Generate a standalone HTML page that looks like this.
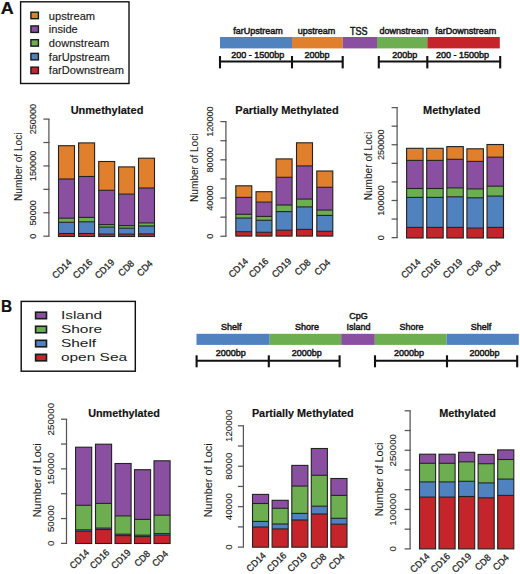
<!DOCTYPE html>
<html><head><meta charset="utf-8"><style>
html,body{margin:0;padding:0;background:#fff;overflow:hidden;}
svg{display:block;font-family:"Liberation Sans", sans-serif;}
</style></head><body>
<svg width="520" height="574" viewBox="0 0 520 574">
<rect x="0" y="0" width="520" height="574" fill="#fff"/>
<line x1="48.90" y1="119.10" x2="48.90" y2="236.20" stroke="#555555" stroke-width="1.25"/>
<line x1="43.40" y1="236.20" x2="49.50" y2="236.20" stroke="#555555" stroke-width="1.25"/>
<line x1="43.40" y1="212.78" x2="49.50" y2="212.78" stroke="#555555" stroke-width="1.25"/>
<line x1="43.40" y1="189.36" x2="49.50" y2="189.36" stroke="#555555" stroke-width="1.25"/>
<line x1="43.40" y1="165.94" x2="49.50" y2="165.94" stroke="#555555" stroke-width="1.25"/>
<line x1="43.40" y1="142.52" x2="49.50" y2="142.52" stroke="#555555" stroke-width="1.25"/>
<line x1="43.40" y1="119.10" x2="49.50" y2="119.10" stroke="#555555" stroke-width="1.25"/>
<text transform="translate(36.40,236.20) rotate(-90) scale(0.9215,1)" font-size="9.95" text-anchor="middle" font-weight="normal" fill="#1a1a1a"  stroke="#1a1a1a" stroke-width="0.1">0</text>
<text transform="translate(36.40,212.78) rotate(-90) scale(0.9215,1)" font-size="9.95" text-anchor="middle" font-weight="normal" fill="#1a1a1a"  stroke="#1a1a1a" stroke-width="0.1">50000</text>
<text transform="translate(36.40,165.94) rotate(-90) scale(0.9215,1)" font-size="9.95" text-anchor="middle" font-weight="normal" fill="#1a1a1a"  stroke="#1a1a1a" stroke-width="0.1">150000</text>
<text transform="translate(36.40,119.10) rotate(-90) scale(0.9215,1)" font-size="9.95" text-anchor="middle" font-weight="normal" fill="#1a1a1a"  stroke="#1a1a1a" stroke-width="0.1">250000</text>
<text transform="translate(22.10,166.80) rotate(-90) scale(1.0,1)" font-size="10.1" text-anchor="middle" font-weight="normal" fill="#1a1a1a"  stroke="#1a1a1a" stroke-width="0.05">Number of Loci</text>
<text transform="translate(107.00,113.50)" font-size="11" text-anchor="middle" font-weight="bold" fill="#111"  stroke="#111" stroke-width="0.15">Unmethylated</text>
<rect x="58.50" y="145.70" width="16.00" height="33.30" fill="#E07F2C"/>
<rect x="58.50" y="179.00" width="16.00" height="39.20" fill="#8A4FA0"/>
<rect x="58.50" y="218.20" width="16.00" height="4.10" fill="#6DAE50"/>
<rect x="58.50" y="222.30" width="16.00" height="11.20" fill="#4F82BF"/>
<rect x="58.50" y="233.50" width="16.00" height="3.00" fill="#C5242A"/>
<line x1="58.50" y1="179.00" x2="74.50" y2="179.00" stroke="#222222" stroke-width="1.1"/>
<line x1="58.50" y1="218.20" x2="74.50" y2="218.20" stroke="#222222" stroke-width="1.1"/>
<line x1="58.50" y1="222.30" x2="74.50" y2="222.30" stroke="#222222" stroke-width="1.1"/>
<line x1="58.50" y1="233.50" x2="74.50" y2="233.50" stroke="#222222" stroke-width="1.1"/>
<rect x="58.50" y="145.70" width="16.00" height="90.80" fill="none" stroke="#222222" stroke-width="1.1"/>
<rect x="78.60" y="142.90" width="16.00" height="33.60" fill="#E07F2C"/>
<rect x="78.60" y="176.50" width="16.00" height="40.90" fill="#8A4FA0"/>
<rect x="78.60" y="217.40" width="16.00" height="4.40" fill="#6DAE50"/>
<rect x="78.60" y="221.80" width="16.00" height="11.70" fill="#4F82BF"/>
<rect x="78.60" y="233.50" width="16.00" height="3.00" fill="#C5242A"/>
<line x1="78.60" y1="176.50" x2="94.60" y2="176.50" stroke="#222222" stroke-width="1.1"/>
<line x1="78.60" y1="217.40" x2="94.60" y2="217.40" stroke="#222222" stroke-width="1.1"/>
<line x1="78.60" y1="221.80" x2="94.60" y2="221.80" stroke="#222222" stroke-width="1.1"/>
<line x1="78.60" y1="233.50" x2="94.60" y2="233.50" stroke="#222222" stroke-width="1.1"/>
<rect x="78.60" y="142.90" width="16.00" height="93.60" fill="none" stroke="#222222" stroke-width="1.1"/>
<rect x="98.70" y="161.50" width="16.00" height="28.80" fill="#E07F2C"/>
<rect x="98.70" y="190.30" width="16.00" height="34.30" fill="#8A4FA0"/>
<rect x="98.70" y="224.60" width="16.00" height="2.50" fill="#6DAE50"/>
<rect x="98.70" y="227.10" width="16.00" height="7.00" fill="#4F82BF"/>
<rect x="98.70" y="234.10" width="16.00" height="2.40" fill="#C5242A"/>
<line x1="98.70" y1="190.30" x2="114.70" y2="190.30" stroke="#222222" stroke-width="1.1"/>
<line x1="98.70" y1="224.60" x2="114.70" y2="224.60" stroke="#222222" stroke-width="1.1"/>
<line x1="98.70" y1="227.10" x2="114.70" y2="227.10" stroke="#222222" stroke-width="1.1"/>
<line x1="98.70" y1="234.10" x2="114.70" y2="234.10" stroke="#222222" stroke-width="1.1"/>
<rect x="98.70" y="161.50" width="16.00" height="75.00" fill="none" stroke="#222222" stroke-width="1.1"/>
<rect x="118.60" y="166.90" width="16.00" height="27.20" fill="#E07F2C"/>
<rect x="118.60" y="194.10" width="16.00" height="31.50" fill="#8A4FA0"/>
<rect x="118.60" y="225.60" width="16.00" height="2.60" fill="#6DAE50"/>
<rect x="118.60" y="228.20" width="16.00" height="5.90" fill="#4F82BF"/>
<rect x="118.60" y="234.10" width="16.00" height="2.40" fill="#C5242A"/>
<line x1="118.60" y1="194.10" x2="134.60" y2="194.10" stroke="#222222" stroke-width="1.1"/>
<line x1="118.60" y1="225.60" x2="134.60" y2="225.60" stroke="#222222" stroke-width="1.1"/>
<line x1="118.60" y1="228.20" x2="134.60" y2="228.20" stroke="#222222" stroke-width="1.1"/>
<line x1="118.60" y1="234.10" x2="134.60" y2="234.10" stroke="#222222" stroke-width="1.1"/>
<rect x="118.60" y="166.90" width="16.00" height="69.60" fill="none" stroke="#222222" stroke-width="1.1"/>
<rect x="138.50" y="158.20" width="16.00" height="29.80" fill="#E07F2C"/>
<rect x="138.50" y="188.00" width="16.00" height="34.90" fill="#8A4FA0"/>
<rect x="138.50" y="222.90" width="16.00" height="3.10" fill="#6DAE50"/>
<rect x="138.50" y="226.00" width="16.00" height="7.90" fill="#4F82BF"/>
<rect x="138.50" y="233.90" width="16.00" height="2.60" fill="#C5242A"/>
<line x1="138.50" y1="188.00" x2="154.50" y2="188.00" stroke="#222222" stroke-width="1.1"/>
<line x1="138.50" y1="222.90" x2="154.50" y2="222.90" stroke="#222222" stroke-width="1.1"/>
<line x1="138.50" y1="226.00" x2="154.50" y2="226.00" stroke="#222222" stroke-width="1.1"/>
<line x1="138.50" y1="233.90" x2="154.50" y2="233.90" stroke="#222222" stroke-width="1.1"/>
<rect x="138.50" y="158.20" width="16.00" height="78.30" fill="none" stroke="#222222" stroke-width="1.1"/>
<text transform="translate(72.40,263.07) rotate(-45) scale(0.95,1)" font-size="9.5" text-anchor="end" font-weight="normal" fill="#1a1a1a"  stroke="#1a1a1a" stroke-width="0.25">CD14</text>
<text transform="translate(93.15,263.07) rotate(-45) scale(0.95,1)" font-size="9.5" text-anchor="end" font-weight="normal" fill="#1a1a1a"  stroke="#1a1a1a" stroke-width="0.25">CD16</text>
<text transform="translate(114.95,263.07) rotate(-45) scale(0.95,1)" font-size="9.5" text-anchor="end" font-weight="normal" fill="#1a1a1a"  stroke="#1a1a1a" stroke-width="0.25">CD19</text>
<text transform="translate(134.85,264.13) rotate(-45) scale(0.95,1)" font-size="9.5" text-anchor="end" font-weight="normal" fill="#1a1a1a"  stroke="#1a1a1a" stroke-width="0.25">CD8</text>
<text transform="translate(153.40,264.13) rotate(-45) scale(0.95,1)" font-size="9.5" text-anchor="end" font-weight="normal" fill="#1a1a1a"  stroke="#1a1a1a" stroke-width="0.25">CD4</text>
<line x1="225.90" y1="121.60" x2="225.90" y2="236.25" stroke="#555555" stroke-width="1.25"/>
<line x1="220.40" y1="236.25" x2="226.50" y2="236.25" stroke="#555555" stroke-width="1.25"/>
<line x1="220.40" y1="217.14" x2="226.50" y2="217.14" stroke="#555555" stroke-width="1.25"/>
<line x1="220.40" y1="198.03" x2="226.50" y2="198.03" stroke="#555555" stroke-width="1.25"/>
<line x1="220.40" y1="178.93" x2="226.50" y2="178.93" stroke="#555555" stroke-width="1.25"/>
<line x1="220.40" y1="159.82" x2="226.50" y2="159.82" stroke="#555555" stroke-width="1.25"/>
<line x1="220.40" y1="140.71" x2="226.50" y2="140.71" stroke="#555555" stroke-width="1.25"/>
<line x1="220.40" y1="121.60" x2="226.50" y2="121.60" stroke="#555555" stroke-width="1.25"/>
<text transform="translate(213.20,236.25) rotate(-90) scale(0.9215,1)" font-size="9.95" text-anchor="middle" font-weight="normal" fill="#1a1a1a"  stroke="#1a1a1a" stroke-width="0.1">0</text>
<text transform="translate(213.20,198.03) rotate(-90) scale(0.9215,1)" font-size="9.95" text-anchor="middle" font-weight="normal" fill="#1a1a1a"  stroke="#1a1a1a" stroke-width="0.1">40000</text>
<text transform="translate(213.20,159.82) rotate(-90) scale(0.9215,1)" font-size="9.95" text-anchor="middle" font-weight="normal" fill="#1a1a1a"  stroke="#1a1a1a" stroke-width="0.1">80000</text>
<text transform="translate(213.20,121.60) rotate(-90) scale(0.9215,1)" font-size="9.95" text-anchor="middle" font-weight="normal" fill="#1a1a1a"  stroke="#1a1a1a" stroke-width="0.1">120000</text>
<text transform="translate(197.50,167.70) rotate(-90) scale(1.0,1)" font-size="10.1" text-anchor="middle" font-weight="normal" fill="#1a1a1a"  stroke="#1a1a1a" stroke-width="0.05">Number of Loci</text>
<text transform="translate(287.00,113.90)" font-size="11" text-anchor="middle" font-weight="bold" fill="#111"  stroke="#111" stroke-width="0.15">Partially Methylated</text>
<rect x="235.80" y="185.80" width="16.00" height="11.60" fill="#E07F2C"/>
<rect x="235.80" y="197.40" width="16.00" height="16.90" fill="#8A4FA0"/>
<rect x="235.80" y="214.30" width="16.00" height="3.80" fill="#6DAE50"/>
<rect x="235.80" y="218.10" width="16.00" height="13.60" fill="#4F82BF"/>
<rect x="235.80" y="231.70" width="16.00" height="4.40" fill="#C5242A"/>
<line x1="235.80" y1="197.40" x2="251.80" y2="197.40" stroke="#222222" stroke-width="1.1"/>
<line x1="235.80" y1="214.30" x2="251.80" y2="214.30" stroke="#222222" stroke-width="1.1"/>
<line x1="235.80" y1="218.10" x2="251.80" y2="218.10" stroke="#222222" stroke-width="1.1"/>
<line x1="235.80" y1="231.70" x2="251.80" y2="231.70" stroke="#222222" stroke-width="1.1"/>
<rect x="235.80" y="185.80" width="16.00" height="50.30" fill="none" stroke="#222222" stroke-width="1.1"/>
<rect x="256.00" y="191.70" width="16.00" height="10.40" fill="#E07F2C"/>
<rect x="256.00" y="202.10" width="16.00" height="14.30" fill="#8A4FA0"/>
<rect x="256.00" y="216.40" width="16.00" height="3.90" fill="#6DAE50"/>
<rect x="256.00" y="220.30" width="16.00" height="12.00" fill="#4F82BF"/>
<rect x="256.00" y="232.30" width="16.00" height="3.80" fill="#C5242A"/>
<line x1="256.00" y1="202.10" x2="272.00" y2="202.10" stroke="#222222" stroke-width="1.1"/>
<line x1="256.00" y1="216.40" x2="272.00" y2="216.40" stroke="#222222" stroke-width="1.1"/>
<line x1="256.00" y1="220.30" x2="272.00" y2="220.30" stroke="#222222" stroke-width="1.1"/>
<line x1="256.00" y1="232.30" x2="272.00" y2="232.30" stroke="#222222" stroke-width="1.1"/>
<rect x="256.00" y="191.70" width="16.00" height="44.40" fill="none" stroke="#222222" stroke-width="1.1"/>
<rect x="276.10" y="158.90" width="16.00" height="18.40" fill="#E07F2C"/>
<rect x="276.10" y="177.30" width="16.00" height="27.70" fill="#8A4FA0"/>
<rect x="276.10" y="205.00" width="16.00" height="6.60" fill="#6DAE50"/>
<rect x="276.10" y="211.60" width="16.00" height="18.60" fill="#4F82BF"/>
<rect x="276.10" y="230.20" width="16.00" height="5.90" fill="#C5242A"/>
<line x1="276.10" y1="177.30" x2="292.10" y2="177.30" stroke="#222222" stroke-width="1.1"/>
<line x1="276.10" y1="205.00" x2="292.10" y2="205.00" stroke="#222222" stroke-width="1.1"/>
<line x1="276.10" y1="211.60" x2="292.10" y2="211.60" stroke="#222222" stroke-width="1.1"/>
<line x1="276.10" y1="230.20" x2="292.10" y2="230.20" stroke="#222222" stroke-width="1.1"/>
<rect x="276.10" y="158.90" width="16.00" height="77.20" fill="none" stroke="#222222" stroke-width="1.1"/>
<rect x="296.50" y="142.80" width="16.00" height="23.10" fill="#E07F2C"/>
<rect x="296.50" y="165.90" width="16.00" height="33.20" fill="#8A4FA0"/>
<rect x="296.50" y="199.10" width="16.00" height="7.80" fill="#6DAE50"/>
<rect x="296.50" y="206.90" width="16.00" height="22.50" fill="#4F82BF"/>
<rect x="296.50" y="229.40" width="16.00" height="6.70" fill="#C5242A"/>
<line x1="296.50" y1="165.90" x2="312.50" y2="165.90" stroke="#222222" stroke-width="1.1"/>
<line x1="296.50" y1="199.10" x2="312.50" y2="199.10" stroke="#222222" stroke-width="1.1"/>
<line x1="296.50" y1="206.90" x2="312.50" y2="206.90" stroke="#222222" stroke-width="1.1"/>
<line x1="296.50" y1="229.40" x2="312.50" y2="229.40" stroke="#222222" stroke-width="1.1"/>
<rect x="296.50" y="142.80" width="16.00" height="93.30" fill="none" stroke="#222222" stroke-width="1.1"/>
<rect x="316.80" y="171.00" width="16.00" height="16.30" fill="#E07F2C"/>
<rect x="316.80" y="187.30" width="16.00" height="22.80" fill="#8A4FA0"/>
<rect x="316.80" y="210.10" width="16.00" height="5.30" fill="#6DAE50"/>
<rect x="316.80" y="215.40" width="16.00" height="15.90" fill="#4F82BF"/>
<rect x="316.80" y="231.30" width="16.00" height="4.80" fill="#C5242A"/>
<line x1="316.80" y1="187.30" x2="332.80" y2="187.30" stroke="#222222" stroke-width="1.1"/>
<line x1="316.80" y1="210.10" x2="332.80" y2="210.10" stroke="#222222" stroke-width="1.1"/>
<line x1="316.80" y1="215.40" x2="332.80" y2="215.40" stroke="#222222" stroke-width="1.1"/>
<line x1="316.80" y1="231.30" x2="332.80" y2="231.30" stroke="#222222" stroke-width="1.1"/>
<rect x="316.80" y="171.00" width="16.00" height="65.10" fill="none" stroke="#222222" stroke-width="1.1"/>
<text transform="translate(248.75,261.98) rotate(-45) scale(0.95,1)" font-size="9.5" text-anchor="end" font-weight="normal" fill="#1a1a1a"  stroke="#1a1a1a" stroke-width="0.25">CD14</text>
<text transform="translate(269.05,261.98) rotate(-45) scale(0.95,1)" font-size="9.5" text-anchor="end" font-weight="normal" fill="#1a1a1a"  stroke="#1a1a1a" stroke-width="0.25">CD16</text>
<text transform="translate(291.95,261.98) rotate(-45) scale(0.95,1)" font-size="9.5" text-anchor="end" font-weight="normal" fill="#1a1a1a"  stroke="#1a1a1a" stroke-width="0.25">CD19</text>
<text transform="translate(311.35,263.13) rotate(-45) scale(0.95,1)" font-size="9.5" text-anchor="end" font-weight="normal" fill="#1a1a1a"  stroke="#1a1a1a" stroke-width="0.25">CD8</text>
<text transform="translate(331.05,263.13) rotate(-45) scale(0.95,1)" font-size="9.5" text-anchor="end" font-weight="normal" fill="#1a1a1a"  stroke="#1a1a1a" stroke-width="0.25">CD4</text>
<line x1="397.10" y1="107.60" x2="397.10" y2="237.65" stroke="#555555" stroke-width="1.25"/>
<line x1="391.60" y1="237.65" x2="397.70" y2="237.65" stroke="#555555" stroke-width="1.25"/>
<line x1="391.60" y1="219.07" x2="397.70" y2="219.07" stroke="#555555" stroke-width="1.25"/>
<line x1="391.60" y1="200.49" x2="397.70" y2="200.49" stroke="#555555" stroke-width="1.25"/>
<line x1="391.60" y1="181.91" x2="397.70" y2="181.91" stroke="#555555" stroke-width="1.25"/>
<line x1="391.60" y1="163.34" x2="397.70" y2="163.34" stroke="#555555" stroke-width="1.25"/>
<line x1="391.60" y1="144.76" x2="397.70" y2="144.76" stroke="#555555" stroke-width="1.25"/>
<line x1="391.60" y1="126.18" x2="397.70" y2="126.18" stroke="#555555" stroke-width="1.25"/>
<line x1="391.60" y1="107.60" x2="397.70" y2="107.60" stroke="#555555" stroke-width="1.25"/>
<text transform="translate(384.10,237.65) rotate(-90) scale(0.9215,1)" font-size="9.95" text-anchor="middle" font-weight="normal" fill="#1a1a1a"  stroke="#1a1a1a" stroke-width="0.1">0</text>
<text transform="translate(384.10,200.49) rotate(-90) scale(0.9215,1)" font-size="9.95" text-anchor="middle" font-weight="normal" fill="#1a1a1a"  stroke="#1a1a1a" stroke-width="0.1">100000</text>
<text transform="translate(384.10,144.76) rotate(-90) scale(0.9215,1)" font-size="9.95" text-anchor="middle" font-weight="normal" fill="#1a1a1a"  stroke="#1a1a1a" stroke-width="0.1">250000</text>
<text transform="translate(371.80,166.10) rotate(-90) scale(1.0,1)" font-size="10.1" text-anchor="middle" font-weight="normal" fill="#1a1a1a"  stroke="#1a1a1a" stroke-width="0.05">Number of Loci</text>
<text transform="translate(451.70,113.50)" font-size="11" text-anchor="middle" font-weight="bold" fill="#111"  stroke="#111" stroke-width="0.15">Methylated</text>
<rect x="406.60" y="148.30" width="16.50" height="12.10" fill="#E07F2C"/>
<rect x="406.60" y="160.40" width="16.50" height="28.10" fill="#8A4FA0"/>
<rect x="406.60" y="188.50" width="16.50" height="8.90" fill="#6DAE50"/>
<rect x="406.60" y="197.40" width="16.50" height="30.00" fill="#4F82BF"/>
<rect x="406.60" y="227.40" width="16.50" height="10.60" fill="#C5242A"/>
<line x1="406.60" y1="160.40" x2="423.10" y2="160.40" stroke="#222222" stroke-width="1.1"/>
<line x1="406.60" y1="188.50" x2="423.10" y2="188.50" stroke="#222222" stroke-width="1.1"/>
<line x1="406.60" y1="197.40" x2="423.10" y2="197.40" stroke="#222222" stroke-width="1.1"/>
<line x1="406.60" y1="227.40" x2="423.10" y2="227.40" stroke="#222222" stroke-width="1.1"/>
<rect x="406.60" y="148.30" width="16.50" height="89.70" fill="none" stroke="#222222" stroke-width="1.1"/>
<rect x="426.70" y="148.30" width="16.50" height="12.10" fill="#E07F2C"/>
<rect x="426.70" y="160.40" width="16.50" height="28.10" fill="#8A4FA0"/>
<rect x="426.70" y="188.50" width="16.50" height="8.90" fill="#6DAE50"/>
<rect x="426.70" y="197.40" width="16.50" height="30.00" fill="#4F82BF"/>
<rect x="426.70" y="227.40" width="16.50" height="10.60" fill="#C5242A"/>
<line x1="426.70" y1="160.40" x2="443.20" y2="160.40" stroke="#222222" stroke-width="1.1"/>
<line x1="426.70" y1="188.50" x2="443.20" y2="188.50" stroke="#222222" stroke-width="1.1"/>
<line x1="426.70" y1="197.40" x2="443.20" y2="197.40" stroke="#222222" stroke-width="1.1"/>
<line x1="426.70" y1="227.40" x2="443.20" y2="227.40" stroke="#222222" stroke-width="1.1"/>
<rect x="426.70" y="148.30" width="16.50" height="89.70" fill="none" stroke="#222222" stroke-width="1.1"/>
<rect x="446.80" y="146.60" width="16.50" height="12.70" fill="#E07F2C"/>
<rect x="446.80" y="159.30" width="16.50" height="28.60" fill="#8A4FA0"/>
<rect x="446.80" y="187.90" width="16.50" height="8.90" fill="#6DAE50"/>
<rect x="446.80" y="196.80" width="16.50" height="30.60" fill="#4F82BF"/>
<rect x="446.80" y="227.40" width="16.50" height="10.60" fill="#C5242A"/>
<line x1="446.80" y1="159.30" x2="463.30" y2="159.30" stroke="#222222" stroke-width="1.1"/>
<line x1="446.80" y1="187.90" x2="463.30" y2="187.90" stroke="#222222" stroke-width="1.1"/>
<line x1="446.80" y1="196.80" x2="463.30" y2="196.80" stroke="#222222" stroke-width="1.1"/>
<line x1="446.80" y1="227.40" x2="463.30" y2="227.40" stroke="#222222" stroke-width="1.1"/>
<rect x="446.80" y="146.60" width="16.50" height="91.40" fill="none" stroke="#222222" stroke-width="1.1"/>
<rect x="466.90" y="148.80" width="16.50" height="12.60" fill="#E07F2C"/>
<rect x="466.90" y="161.40" width="16.50" height="27.50" fill="#8A4FA0"/>
<rect x="466.90" y="188.90" width="16.50" height="8.90" fill="#6DAE50"/>
<rect x="466.90" y="197.80" width="16.50" height="30.30" fill="#4F82BF"/>
<rect x="466.90" y="228.10" width="16.50" height="9.90" fill="#C5242A"/>
<line x1="466.90" y1="161.40" x2="483.40" y2="161.40" stroke="#222222" stroke-width="1.1"/>
<line x1="466.90" y1="188.90" x2="483.40" y2="188.90" stroke="#222222" stroke-width="1.1"/>
<line x1="466.90" y1="197.80" x2="483.40" y2="197.80" stroke="#222222" stroke-width="1.1"/>
<line x1="466.90" y1="228.10" x2="483.40" y2="228.10" stroke="#222222" stroke-width="1.1"/>
<rect x="466.90" y="148.80" width="16.50" height="89.20" fill="none" stroke="#222222" stroke-width="1.1"/>
<rect x="487.00" y="144.50" width="16.50" height="12.70" fill="#E07F2C"/>
<rect x="487.00" y="157.20" width="16.50" height="29.00" fill="#8A4FA0"/>
<rect x="487.00" y="186.20" width="16.50" height="9.90" fill="#6DAE50"/>
<rect x="487.00" y="196.10" width="16.50" height="31.30" fill="#4F82BF"/>
<rect x="487.00" y="227.40" width="16.50" height="10.60" fill="#C5242A"/>
<line x1="487.00" y1="157.20" x2="503.50" y2="157.20" stroke="#222222" stroke-width="1.1"/>
<line x1="487.00" y1="186.20" x2="503.50" y2="186.20" stroke="#222222" stroke-width="1.1"/>
<line x1="487.00" y1="196.10" x2="503.50" y2="196.10" stroke="#222222" stroke-width="1.1"/>
<line x1="487.00" y1="227.40" x2="503.50" y2="227.40" stroke="#222222" stroke-width="1.1"/>
<rect x="487.00" y="144.50" width="16.50" height="93.50" fill="none" stroke="#222222" stroke-width="1.1"/>
<text transform="translate(421.20,262.63) rotate(-45) scale(0.95,1)" font-size="9.5" text-anchor="end" font-weight="normal" fill="#1a1a1a"  stroke="#1a1a1a" stroke-width="0.25">CD14</text>
<text transform="translate(441.15,262.63) rotate(-45) scale(0.95,1)" font-size="9.5" text-anchor="end" font-weight="normal" fill="#1a1a1a"  stroke="#1a1a1a" stroke-width="0.25">CD16</text>
<text transform="translate(463.05,262.63) rotate(-45) scale(0.95,1)" font-size="9.5" text-anchor="end" font-weight="normal" fill="#1a1a1a"  stroke="#1a1a1a" stroke-width="0.25">CD19</text>
<text transform="translate(483.10,264.25) rotate(-45) scale(0.95,1)" font-size="9.5" text-anchor="end" font-weight="normal" fill="#1a1a1a"  stroke="#1a1a1a" stroke-width="0.25">CD8</text>
<text transform="translate(501.60,264.25) rotate(-45) scale(0.95,1)" font-size="9.5" text-anchor="end" font-weight="normal" fill="#1a1a1a"  stroke="#1a1a1a" stroke-width="0.25">CD4</text>
<line x1="66.50" y1="419.20" x2="66.50" y2="543.40" stroke="#555555" stroke-width="1.25"/>
<line x1="61.00" y1="543.40" x2="67.10" y2="543.40" stroke="#555555" stroke-width="1.25"/>
<line x1="61.00" y1="518.56" x2="67.10" y2="518.56" stroke="#555555" stroke-width="1.25"/>
<line x1="61.00" y1="493.72" x2="67.10" y2="493.72" stroke="#555555" stroke-width="1.25"/>
<line x1="61.00" y1="468.88" x2="67.10" y2="468.88" stroke="#555555" stroke-width="1.25"/>
<line x1="61.00" y1="444.04" x2="67.10" y2="444.04" stroke="#555555" stroke-width="1.25"/>
<line x1="61.00" y1="419.20" x2="67.10" y2="419.20" stroke="#555555" stroke-width="1.25"/>
<text transform="translate(54.30,543.40) rotate(-90) scale(0.9797,1)" font-size="9.95" text-anchor="middle" font-weight="normal" fill="#1a1a1a"  stroke="#1a1a1a" stroke-width="0.1">0</text>
<text transform="translate(54.30,518.56) rotate(-90) scale(0.9797,1)" font-size="9.95" text-anchor="middle" font-weight="normal" fill="#1a1a1a"  stroke="#1a1a1a" stroke-width="0.1">50000</text>
<text transform="translate(54.30,468.88) rotate(-90) scale(0.9797,1)" font-size="9.95" text-anchor="middle" font-weight="normal" fill="#1a1a1a"  stroke="#1a1a1a" stroke-width="0.1">150000</text>
<text transform="translate(54.30,419.20) rotate(-90) scale(0.9797,1)" font-size="9.95" text-anchor="middle" font-weight="normal" fill="#1a1a1a"  stroke="#1a1a1a" stroke-width="0.1">250000</text>
<text transform="translate(40.90,480.30) rotate(-90) scale(1.07,1)" font-size="10.2" text-anchor="middle" font-weight="normal" fill="#1a1a1a"  stroke="#1a1a1a" stroke-width="0.05">Number of Loci</text>
<text transform="translate(124.00,416.60)" font-size="10.85" text-anchor="middle" font-weight="bold" fill="#111"  stroke="#111" stroke-width="0.15">Unmethylated</text>
<rect x="75.60" y="447.20" width="16.10" height="58.10" fill="#8A4FA0"/>
<rect x="75.60" y="505.30" width="16.10" height="24.50" fill="#6DAE50"/>
<rect x="75.60" y="529.80" width="16.10" height="1.50" fill="#4F82BF"/>
<rect x="75.60" y="531.30" width="16.10" height="12.20" fill="#C5242A"/>
<line x1="75.60" y1="505.30" x2="91.70" y2="505.30" stroke="#222222" stroke-width="1.1"/>
<line x1="75.60" y1="529.80" x2="91.70" y2="529.80" stroke="#222222" stroke-width="1.1"/>
<line x1="75.60" y1="531.30" x2="91.70" y2="531.30" stroke="#222222" stroke-width="1.1"/>
<rect x="75.60" y="447.20" width="16.10" height="96.30" fill="none" stroke="#222222" stroke-width="1.1"/>
<rect x="95.50" y="444.20" width="16.10" height="59.20" fill="#8A4FA0"/>
<rect x="95.50" y="503.40" width="16.10" height="24.70" fill="#6DAE50"/>
<rect x="95.50" y="528.10" width="16.10" height="1.40" fill="#4F82BF"/>
<rect x="95.50" y="529.50" width="16.10" height="14.00" fill="#C5242A"/>
<line x1="95.50" y1="503.40" x2="111.60" y2="503.40" stroke="#222222" stroke-width="1.1"/>
<line x1="95.50" y1="528.10" x2="111.60" y2="528.10" stroke="#222222" stroke-width="1.1"/>
<line x1="95.50" y1="529.50" x2="111.60" y2="529.50" stroke="#222222" stroke-width="1.1"/>
<rect x="95.50" y="444.20" width="16.10" height="99.30" fill="none" stroke="#222222" stroke-width="1.1"/>
<rect x="115.00" y="463.50" width="16.10" height="52.40" fill="#8A4FA0"/>
<rect x="115.00" y="515.90" width="16.10" height="18.30" fill="#6DAE50"/>
<rect x="115.00" y="534.20" width="16.10" height="1.40" fill="#4F82BF"/>
<rect x="115.00" y="535.60" width="16.10" height="7.90" fill="#C5242A"/>
<line x1="115.00" y1="515.90" x2="131.10" y2="515.90" stroke="#222222" stroke-width="1.1"/>
<line x1="115.00" y1="534.20" x2="131.10" y2="534.20" stroke="#222222" stroke-width="1.1"/>
<line x1="115.00" y1="535.60" x2="131.10" y2="535.60" stroke="#222222" stroke-width="1.1"/>
<rect x="115.00" y="463.50" width="16.10" height="80.00" fill="none" stroke="#222222" stroke-width="1.1"/>
<rect x="134.50" y="469.70" width="16.10" height="49.70" fill="#8A4FA0"/>
<rect x="134.50" y="519.40" width="16.10" height="15.80" fill="#6DAE50"/>
<rect x="134.50" y="535.20" width="16.10" height="1.40" fill="#4F82BF"/>
<rect x="134.50" y="536.60" width="16.10" height="6.90" fill="#C5242A"/>
<line x1="134.50" y1="519.40" x2="150.60" y2="519.40" stroke="#222222" stroke-width="1.1"/>
<line x1="134.50" y1="535.20" x2="150.60" y2="535.20" stroke="#222222" stroke-width="1.1"/>
<line x1="134.50" y1="536.60" x2="150.60" y2="536.60" stroke="#222222" stroke-width="1.1"/>
<rect x="134.50" y="469.70" width="16.10" height="73.80" fill="none" stroke="#222222" stroke-width="1.1"/>
<rect x="154.00" y="460.80" width="16.10" height="54.40" fill="#8A4FA0"/>
<rect x="154.00" y="515.20" width="16.10" height="18.40" fill="#6DAE50"/>
<rect x="154.00" y="533.60" width="16.10" height="1.60" fill="#4F82BF"/>
<rect x="154.00" y="535.20" width="16.10" height="8.30" fill="#C5242A"/>
<line x1="154.00" y1="515.20" x2="170.10" y2="515.20" stroke="#222222" stroke-width="1.1"/>
<line x1="154.00" y1="533.60" x2="170.10" y2="533.60" stroke="#222222" stroke-width="1.1"/>
<line x1="154.00" y1="535.20" x2="170.10" y2="535.20" stroke="#222222" stroke-width="1.1"/>
<rect x="154.00" y="460.80" width="16.10" height="82.70" fill="none" stroke="#222222" stroke-width="1.1"/>
<text transform="translate(89.90,553.28) rotate(-45) scale(0.95,1)" font-size="9.5" text-anchor="end" font-weight="normal" fill="#1a1a1a"  stroke="#1a1a1a" stroke-width="0.25">CD14</text>
<text transform="translate(110.15,553.28) rotate(-45) scale(0.95,1)" font-size="9.5" text-anchor="end" font-weight="normal" fill="#1a1a1a"  stroke="#1a1a1a" stroke-width="0.25">CD16</text>
<text transform="translate(131.40,553.28) rotate(-45) scale(0.95,1)" font-size="9.5" text-anchor="end" font-weight="normal" fill="#1a1a1a"  stroke="#1a1a1a" stroke-width="0.25">CD19</text>
<text transform="translate(150.90,554.53) rotate(-45) scale(0.95,1)" font-size="9.5" text-anchor="end" font-weight="normal" fill="#1a1a1a"  stroke="#1a1a1a" stroke-width="0.25">CD8</text>
<text transform="translate(168.70,554.53) rotate(-45) scale(0.95,1)" font-size="9.5" text-anchor="end" font-weight="normal" fill="#1a1a1a"  stroke="#1a1a1a" stroke-width="0.25">CD4</text>
<line x1="243.40" y1="425.80" x2="243.40" y2="547.10" stroke="#555555" stroke-width="1.25"/>
<line x1="237.90" y1="547.10" x2="244.00" y2="547.10" stroke="#555555" stroke-width="1.25"/>
<line x1="237.90" y1="526.88" x2="244.00" y2="526.88" stroke="#555555" stroke-width="1.25"/>
<line x1="237.90" y1="506.67" x2="244.00" y2="506.67" stroke="#555555" stroke-width="1.25"/>
<line x1="237.90" y1="486.45" x2="244.00" y2="486.45" stroke="#555555" stroke-width="1.25"/>
<line x1="237.90" y1="466.23" x2="244.00" y2="466.23" stroke="#555555" stroke-width="1.25"/>
<line x1="237.90" y1="446.02" x2="244.00" y2="446.02" stroke="#555555" stroke-width="1.25"/>
<line x1="237.90" y1="425.80" x2="244.00" y2="425.80" stroke="#555555" stroke-width="1.25"/>
<text transform="translate(231.70,547.10) rotate(-90) scale(0.9797,1)" font-size="9.95" text-anchor="middle" font-weight="normal" fill="#1a1a1a"  stroke="#1a1a1a" stroke-width="0.1">0</text>
<text transform="translate(231.70,506.67) rotate(-90) scale(0.9797,1)" font-size="9.95" text-anchor="middle" font-weight="normal" fill="#1a1a1a"  stroke="#1a1a1a" stroke-width="0.1">40000</text>
<text transform="translate(231.70,466.23) rotate(-90) scale(0.9797,1)" font-size="9.95" text-anchor="middle" font-weight="normal" fill="#1a1a1a"  stroke="#1a1a1a" stroke-width="0.1">80000</text>
<text transform="translate(231.70,425.80) rotate(-90) scale(0.9797,1)" font-size="9.95" text-anchor="middle" font-weight="normal" fill="#1a1a1a"  stroke="#1a1a1a" stroke-width="0.1">120000</text>
<text transform="translate(212.00,480.30) rotate(-90) scale(1.07,1)" font-size="10.2" text-anchor="middle" font-weight="normal" fill="#1a1a1a"  stroke="#1a1a1a" stroke-width="0.05">Number of Loci</text>
<text transform="translate(302.80,416.80)" font-size="10.85" text-anchor="middle" font-weight="bold" fill="#111"  stroke="#111" stroke-width="0.15">Partially Methylated</text>
<rect x="252.50" y="494.40" width="16.10" height="9.10" fill="#8A4FA0"/>
<rect x="252.50" y="503.50" width="16.10" height="17.90" fill="#6DAE50"/>
<rect x="252.50" y="521.40" width="16.10" height="5.60" fill="#4F82BF"/>
<rect x="252.50" y="527.00" width="16.10" height="20.20" fill="#C5242A"/>
<line x1="252.50" y1="503.50" x2="268.60" y2="503.50" stroke="#222222" stroke-width="1.1"/>
<line x1="252.50" y1="521.40" x2="268.60" y2="521.40" stroke="#222222" stroke-width="1.1"/>
<line x1="252.50" y1="527.00" x2="268.60" y2="527.00" stroke="#222222" stroke-width="1.1"/>
<rect x="252.50" y="494.40" width="16.10" height="52.80" fill="none" stroke="#222222" stroke-width="1.1"/>
<rect x="272.10" y="500.30" width="16.10" height="8.00" fill="#8A4FA0"/>
<rect x="272.10" y="508.30" width="16.10" height="15.70" fill="#6DAE50"/>
<rect x="272.10" y="524.00" width="16.10" height="4.90" fill="#4F82BF"/>
<rect x="272.10" y="528.90" width="16.10" height="18.30" fill="#C5242A"/>
<line x1="272.10" y1="508.30" x2="288.20" y2="508.30" stroke="#222222" stroke-width="1.1"/>
<line x1="272.10" y1="524.00" x2="288.20" y2="524.00" stroke="#222222" stroke-width="1.1"/>
<line x1="272.10" y1="528.90" x2="288.20" y2="528.90" stroke="#222222" stroke-width="1.1"/>
<rect x="272.10" y="500.30" width="16.10" height="46.90" fill="none" stroke="#222222" stroke-width="1.1"/>
<rect x="291.80" y="465.40" width="16.10" height="20.70" fill="#8A4FA0"/>
<rect x="291.80" y="486.10" width="16.10" height="27.30" fill="#6DAE50"/>
<rect x="291.80" y="513.40" width="16.10" height="6.60" fill="#4F82BF"/>
<rect x="291.80" y="520.00" width="16.10" height="27.20" fill="#C5242A"/>
<line x1="291.80" y1="486.10" x2="307.90" y2="486.10" stroke="#222222" stroke-width="1.1"/>
<line x1="291.80" y1="513.40" x2="307.90" y2="513.40" stroke="#222222" stroke-width="1.1"/>
<line x1="291.80" y1="520.00" x2="307.90" y2="520.00" stroke="#222222" stroke-width="1.1"/>
<rect x="291.80" y="465.40" width="16.10" height="81.80" fill="none" stroke="#222222" stroke-width="1.1"/>
<rect x="311.30" y="448.50" width="16.10" height="26.80" fill="#8A4FA0"/>
<rect x="311.30" y="475.30" width="16.10" height="30.90" fill="#6DAE50"/>
<rect x="311.30" y="506.20" width="16.10" height="7.80" fill="#4F82BF"/>
<rect x="311.30" y="514.00" width="16.10" height="33.20" fill="#C5242A"/>
<line x1="311.30" y1="475.30" x2="327.40" y2="475.30" stroke="#222222" stroke-width="1.1"/>
<line x1="311.30" y1="506.20" x2="327.40" y2="506.20" stroke="#222222" stroke-width="1.1"/>
<line x1="311.30" y1="514.00" x2="327.40" y2="514.00" stroke="#222222" stroke-width="1.1"/>
<rect x="311.30" y="448.50" width="16.10" height="98.70" fill="none" stroke="#222222" stroke-width="1.1"/>
<rect x="330.90" y="478.50" width="16.10" height="16.90" fill="#8A4FA0"/>
<rect x="330.90" y="495.40" width="16.10" height="22.90" fill="#6DAE50"/>
<rect x="330.90" y="518.30" width="16.10" height="5.90" fill="#4F82BF"/>
<rect x="330.90" y="524.20" width="16.10" height="23.00" fill="#C5242A"/>
<line x1="330.90" y1="495.40" x2="347.00" y2="495.40" stroke="#222222" stroke-width="1.1"/>
<line x1="330.90" y1="518.30" x2="347.00" y2="518.30" stroke="#222222" stroke-width="1.1"/>
<line x1="330.90" y1="524.20" x2="347.00" y2="524.20" stroke="#222222" stroke-width="1.1"/>
<rect x="330.90" y="478.50" width="16.10" height="68.70" fill="none" stroke="#222222" stroke-width="1.1"/>
<text transform="translate(266.55,556.13) rotate(-45) scale(0.95,1)" font-size="9.5" text-anchor="end" font-weight="normal" fill="#1a1a1a"  stroke="#1a1a1a" stroke-width="0.25">CD14</text>
<text transform="translate(287.00,556.13) rotate(-45) scale(0.95,1)" font-size="9.5" text-anchor="end" font-weight="normal" fill="#1a1a1a"  stroke="#1a1a1a" stroke-width="0.25">CD16</text>
<text transform="translate(307.55,556.13) rotate(-45) scale(0.95,1)" font-size="9.5" text-anchor="end" font-weight="normal" fill="#1a1a1a"  stroke="#1a1a1a" stroke-width="0.25">CD19</text>
<text transform="translate(327.05,557.45) rotate(-45) scale(0.95,1)" font-size="9.5" text-anchor="end" font-weight="normal" fill="#1a1a1a"  stroke="#1a1a1a" stroke-width="0.25">CD8</text>
<text transform="translate(345.25,557.45) rotate(-45) scale(0.95,1)" font-size="9.5" text-anchor="end" font-weight="normal" fill="#1a1a1a"  stroke="#1a1a1a" stroke-width="0.25">CD4</text>
<line x1="410.10" y1="410.80" x2="410.10" y2="548.90" stroke="#555555" stroke-width="1.25"/>
<line x1="404.60" y1="548.90" x2="410.70" y2="548.90" stroke="#555555" stroke-width="1.25"/>
<line x1="404.60" y1="529.17" x2="410.70" y2="529.17" stroke="#555555" stroke-width="1.25"/>
<line x1="404.60" y1="509.44" x2="410.70" y2="509.44" stroke="#555555" stroke-width="1.25"/>
<line x1="404.60" y1="489.71" x2="410.70" y2="489.71" stroke="#555555" stroke-width="1.25"/>
<line x1="404.60" y1="469.99" x2="410.70" y2="469.99" stroke="#555555" stroke-width="1.25"/>
<line x1="404.60" y1="450.26" x2="410.70" y2="450.26" stroke="#555555" stroke-width="1.25"/>
<line x1="404.60" y1="430.53" x2="410.70" y2="430.53" stroke="#555555" stroke-width="1.25"/>
<line x1="404.60" y1="410.80" x2="410.70" y2="410.80" stroke="#555555" stroke-width="1.25"/>
<text transform="translate(396.20,548.90) rotate(-90) scale(0.9797,1)" font-size="9.95" text-anchor="middle" font-weight="normal" fill="#1a1a1a"  stroke="#1a1a1a" stroke-width="0.1">0</text>
<text transform="translate(396.20,509.44) rotate(-90) scale(0.9797,1)" font-size="9.95" text-anchor="middle" font-weight="normal" fill="#1a1a1a"  stroke="#1a1a1a" stroke-width="0.1">100000</text>
<text transform="translate(396.20,450.26) rotate(-90) scale(0.9797,1)" font-size="9.95" text-anchor="middle" font-weight="normal" fill="#1a1a1a"  stroke="#1a1a1a" stroke-width="0.1">250000</text>
<text transform="translate(382.50,479.40) rotate(-90) scale(1.07,1)" font-size="10.2" text-anchor="middle" font-weight="normal" fill="#1a1a1a"  stroke="#1a1a1a" stroke-width="0.05">Number of Loci</text>
<text transform="translate(467.50,416.80)" font-size="10.85" text-anchor="middle" font-weight="bold" fill="#111"  stroke="#111" stroke-width="0.15">Methylated</text>
<rect x="419.50" y="454.20" width="16.10" height="9.10" fill="#8A4FA0"/>
<rect x="419.50" y="463.30" width="16.10" height="18.60" fill="#6DAE50"/>
<rect x="419.50" y="481.90" width="16.10" height="15.20" fill="#4F82BF"/>
<rect x="419.50" y="497.10" width="16.10" height="51.80" fill="#C5242A"/>
<line x1="419.50" y1="463.30" x2="435.60" y2="463.30" stroke="#222222" stroke-width="1.1"/>
<line x1="419.50" y1="481.90" x2="435.60" y2="481.90" stroke="#222222" stroke-width="1.1"/>
<line x1="419.50" y1="497.10" x2="435.60" y2="497.10" stroke="#222222" stroke-width="1.1"/>
<rect x="419.50" y="454.20" width="16.10" height="94.70" fill="none" stroke="#222222" stroke-width="1.1"/>
<rect x="439.00" y="454.20" width="16.10" height="9.10" fill="#8A4FA0"/>
<rect x="439.00" y="463.30" width="16.10" height="18.60" fill="#6DAE50"/>
<rect x="439.00" y="481.90" width="16.10" height="15.20" fill="#4F82BF"/>
<rect x="439.00" y="497.10" width="16.10" height="51.80" fill="#C5242A"/>
<line x1="439.00" y1="463.30" x2="455.10" y2="463.30" stroke="#222222" stroke-width="1.1"/>
<line x1="439.00" y1="481.90" x2="455.10" y2="481.90" stroke="#222222" stroke-width="1.1"/>
<line x1="439.00" y1="497.10" x2="455.10" y2="497.10" stroke="#222222" stroke-width="1.1"/>
<rect x="439.00" y="454.20" width="16.10" height="94.70" fill="none" stroke="#222222" stroke-width="1.1"/>
<rect x="458.60" y="452.30" width="16.10" height="9.50" fill="#8A4FA0"/>
<rect x="458.60" y="461.80" width="16.10" height="19.50" fill="#6DAE50"/>
<rect x="458.60" y="481.30" width="16.10" height="15.20" fill="#4F82BF"/>
<rect x="458.60" y="496.50" width="16.10" height="52.40" fill="#C5242A"/>
<line x1="458.60" y1="461.80" x2="474.70" y2="461.80" stroke="#222222" stroke-width="1.1"/>
<line x1="458.60" y1="481.30" x2="474.70" y2="481.30" stroke="#222222" stroke-width="1.1"/>
<line x1="458.60" y1="496.50" x2="474.70" y2="496.50" stroke="#222222" stroke-width="1.1"/>
<rect x="458.60" y="452.30" width="16.10" height="96.60" fill="none" stroke="#222222" stroke-width="1.1"/>
<rect x="478.10" y="454.40" width="16.10" height="9.30" fill="#8A4FA0"/>
<rect x="478.10" y="463.70" width="16.10" height="19.20" fill="#6DAE50"/>
<rect x="478.10" y="482.90" width="16.10" height="14.90" fill="#4F82BF"/>
<rect x="478.10" y="497.80" width="16.10" height="51.10" fill="#C5242A"/>
<line x1="478.10" y1="463.70" x2="494.20" y2="463.70" stroke="#222222" stroke-width="1.1"/>
<line x1="478.10" y1="482.90" x2="494.20" y2="482.90" stroke="#222222" stroke-width="1.1"/>
<line x1="478.10" y1="497.80" x2="494.20" y2="497.80" stroke="#222222" stroke-width="1.1"/>
<rect x="478.10" y="454.40" width="16.10" height="94.50" fill="none" stroke="#222222" stroke-width="1.1"/>
<rect x="497.70" y="449.90" width="16.10" height="9.60" fill="#8A4FA0"/>
<rect x="497.70" y="459.50" width="16.10" height="19.60" fill="#6DAE50"/>
<rect x="497.70" y="479.10" width="16.10" height="16.30" fill="#4F82BF"/>
<rect x="497.70" y="495.40" width="16.10" height="53.50" fill="#C5242A"/>
<line x1="497.70" y1="459.50" x2="513.80" y2="459.50" stroke="#222222" stroke-width="1.1"/>
<line x1="497.70" y1="479.10" x2="513.80" y2="479.10" stroke="#222222" stroke-width="1.1"/>
<line x1="497.70" y1="495.40" x2="513.80" y2="495.40" stroke="#222222" stroke-width="1.1"/>
<rect x="497.70" y="449.90" width="16.10" height="99.00" fill="none" stroke="#222222" stroke-width="1.1"/>
<text transform="translate(430.35,556.95) rotate(-45) scale(0.95,1)" font-size="9.5" text-anchor="end" font-weight="normal" fill="#1a1a1a"  stroke="#1a1a1a" stroke-width="0.25">CD14</text>
<text transform="translate(450.90,556.95) rotate(-45) scale(0.95,1)" font-size="9.5" text-anchor="end" font-weight="normal" fill="#1a1a1a"  stroke="#1a1a1a" stroke-width="0.25">CD16</text>
<text transform="translate(471.95,556.95) rotate(-45) scale(0.95,1)" font-size="9.5" text-anchor="end" font-weight="normal" fill="#1a1a1a"  stroke="#1a1a1a" stroke-width="0.25">CD19</text>
<text transform="translate(491.55,558.25) rotate(-45) scale(0.95,1)" font-size="9.5" text-anchor="end" font-weight="normal" fill="#1a1a1a"  stroke="#1a1a1a" stroke-width="0.25">CD8</text>
<text transform="translate(509.55,558.25) rotate(-45) scale(0.95,1)" font-size="9.5" text-anchor="end" font-weight="normal" fill="#1a1a1a"  stroke="#1a1a1a" stroke-width="0.25">CD4</text>
<text transform="translate(0.70,13.90) scale(1.09,1)" font-size="16.5" text-anchor="start" font-weight="bold" fill="#111"  stroke="#111" stroke-width="0.2">A</text>
<rect x="20.60" y="1.80" width="108.40" height="81.70" fill="none" stroke="#111" stroke-width="1.4"/>
<rect x="30.90" y="12.20" width="7.50" height="6.50" fill="#E07F2C" stroke="#1a1a1a" stroke-width="1.4"/>
<text transform="translate(48.80,19.60)" font-size="11.1" text-anchor="start" font-weight="normal" fill="#1a1a1a"  stroke="#1a1a1a" stroke-width="0.15">upstream</text>
<rect x="30.90" y="25.93" width="7.50" height="6.50" fill="#8A4FA0" stroke="#1a1a1a" stroke-width="1.4"/>
<text transform="translate(48.80,33.28)" font-size="11.1" text-anchor="start" font-weight="normal" fill="#1a1a1a"  stroke="#1a1a1a" stroke-width="0.15">inside</text>
<rect x="30.90" y="39.66" width="7.50" height="6.50" fill="#6DAE50" stroke="#1a1a1a" stroke-width="1.4"/>
<text transform="translate(48.80,46.96)" font-size="11.1" text-anchor="start" font-weight="normal" fill="#1a1a1a"  stroke="#1a1a1a" stroke-width="0.15">downstream</text>
<rect x="30.90" y="53.39" width="7.50" height="6.50" fill="#4F82BF" stroke="#1a1a1a" stroke-width="1.4"/>
<text transform="translate(48.80,60.64)" font-size="11.1" text-anchor="start" font-weight="normal" fill="#1a1a1a"  stroke="#1a1a1a" stroke-width="0.15">farUpstream</text>
<rect x="30.90" y="67.12" width="7.50" height="6.50" fill="#C5242A" stroke="#1a1a1a" stroke-width="1.4"/>
<text transform="translate(48.80,74.32)" font-size="11.1" text-anchor="start" font-weight="normal" fill="#1a1a1a"  stroke="#1a1a1a" stroke-width="0.15">farDownstream</text>
<text transform="translate(1.00,312.30) scale(0.96,1)" font-size="16.0" text-anchor="start" font-weight="bold" fill="#111"  stroke="#111" stroke-width="0.2">B</text>
<rect x="21.20" y="301.40" width="114.10" height="69.80" fill="none" stroke="#111" stroke-width="1.45"/>
<rect x="35.60" y="312.20" width="10.90" height="6.50" fill="#8A4FA0" stroke="#1a1a1a" stroke-width="1.6"/>
<text transform="translate(60.90,319.40) scale(1.42,1)" font-size="10.9" text-anchor="start" font-weight="normal" fill="#1a1a1a" >Island</text>
<rect x="35.60" y="326.25" width="10.90" height="6.50" fill="#6DAE50" stroke="#1a1a1a" stroke-width="1.6"/>
<text transform="translate(60.90,333.27) scale(1.42,1)" font-size="10.9" text-anchor="start" font-weight="normal" fill="#1a1a1a" >Shore</text>
<rect x="35.60" y="340.30" width="10.90" height="6.50" fill="#4F82BF" stroke="#1a1a1a" stroke-width="1.6"/>
<text transform="translate(60.90,347.14) scale(1.42,1)" font-size="10.9" text-anchor="start" font-weight="normal" fill="#1a1a1a" >Shelf</text>
<rect x="35.60" y="354.35" width="10.90" height="6.50" fill="#C5242A" stroke="#1a1a1a" stroke-width="1.6"/>
<text transform="translate(60.90,361.01) scale(1.42,1)" font-size="10.9" text-anchor="start" font-weight="normal" fill="#1a1a1a" >open Sea</text>
<rect x="220.00" y="37.00" width="72.00" height="11.40" fill="#4F82BF"/>
<rect x="292.00" y="37.00" width="50.70" height="11.40" fill="#E07F2C"/>
<rect x="342.70" y="37.00" width="34.30" height="11.40" fill="#8A4FA0"/>
<rect x="377.00" y="37.00" width="50.30" height="11.40" fill="#6DAE50"/>
<rect x="427.30" y="37.00" width="72.50" height="11.40" fill="#C5242A"/>
<text transform="translate(258.00,34.30) scale(0.92,1)" font-size="9.8" text-anchor="middle" font-weight="normal" fill="#161616"  stroke="#161616" stroke-width="0.5">farUpstream</text>
<text transform="translate(316.60,34.30) scale(0.92,1)" font-size="9.8" text-anchor="middle" font-weight="normal" fill="#161616"  stroke="#161616" stroke-width="0.5">upstream</text>
<text transform="translate(404.00,34.30) scale(0.92,1)" font-size="9.8" text-anchor="middle" font-weight="normal" fill="#161616"  stroke="#161616" stroke-width="0.5">downstream</text>
<text transform="translate(465.70,34.30) scale(0.92,1)" font-size="9.8" text-anchor="middle" font-weight="normal" fill="#161616"  stroke="#161616" stroke-width="0.5">farDownstream</text>
<text transform="translate(358.70,34.80) scale(0.85,1)" font-size="10.6" text-anchor="middle" font-weight="normal" fill="#161616"  stroke="#161616" stroke-width="0.5">TSS</text>
<line x1="220.00" y1="61.50" x2="342.70" y2="61.50" stroke="#111" stroke-width="2.2"/>
<line x1="378.80" y1="61.50" x2="499.80" y2="61.50" stroke="#111" stroke-width="2.2"/>
<line x1="220.00" y1="56.00" x2="220.00" y2="68.40" stroke="#111" stroke-width="2.1"/>
<line x1="292.00" y1="56.00" x2="292.00" y2="68.40" stroke="#111" stroke-width="2.1"/>
<line x1="342.70" y1="56.00" x2="342.70" y2="68.40" stroke="#111" stroke-width="2.1"/>
<line x1="378.80" y1="56.00" x2="378.80" y2="68.40" stroke="#111" stroke-width="2.1"/>
<line x1="427.30" y1="56.00" x2="427.30" y2="68.40" stroke="#111" stroke-width="2.1"/>
<line x1="500.20" y1="56.00" x2="500.20" y2="68.40" stroke="#111" stroke-width="2.1"/>
<text transform="translate(257.80,58.30) scale(0.92,1)" font-size="9.8" text-anchor="middle" font-weight="normal" fill="#161616"  stroke="#161616" stroke-width="0.5">200 - 1500bp</text>
<text transform="translate(317.00,58.30) scale(0.92,1)" font-size="9.8" text-anchor="middle" font-weight="normal" fill="#161616"  stroke="#161616" stroke-width="0.5">200bp</text>
<text transform="translate(404.70,58.30) scale(0.92,1)" font-size="9.8" text-anchor="middle" font-weight="normal" fill="#161616"  stroke="#161616" stroke-width="0.5">200bp</text>
<text transform="translate(462.50,58.30) scale(0.92,1)" font-size="9.8" text-anchor="middle" font-weight="normal" fill="#161616"  stroke="#161616" stroke-width="0.5">200 - 1500bp</text>
<rect x="196.50" y="333.80" width="73.20" height="11.10" fill="#4F82BF"/>
<rect x="269.70" y="333.80" width="71.50" height="11.10" fill="#6DAE50"/>
<rect x="341.20" y="333.80" width="33.60" height="11.10" fill="#8A4FA0"/>
<rect x="374.80" y="333.80" width="71.70" height="11.10" fill="#6DAE50"/>
<rect x="446.50" y="333.80" width="72.30" height="11.10" fill="#4F82BF"/>
<text transform="translate(231.20,330.00) scale(0.92,1)" font-size="9.8" text-anchor="middle" font-weight="normal" fill="#161616"  stroke="#161616" stroke-width="0.5">Shelf</text>
<text transform="translate(307.00,330.00) scale(0.92,1)" font-size="9.8" text-anchor="middle" font-weight="normal" fill="#161616"  stroke="#161616" stroke-width="0.5">Shore</text>
<text transform="translate(411.50,330.00) scale(0.92,1)" font-size="9.8" text-anchor="middle" font-weight="normal" fill="#161616"  stroke="#161616" stroke-width="0.5">Shore</text>
<text transform="translate(481.10,330.00) scale(0.92,1)" font-size="9.8" text-anchor="middle" font-weight="normal" fill="#161616"  stroke="#161616" stroke-width="0.5">Shelf</text>
<text transform="translate(358.40,319.30) scale(0.92,1)" font-size="9.8" text-anchor="middle" font-weight="normal" fill="#161616"  stroke="#161616" stroke-width="0.5">CpG</text>
<text transform="translate(358.40,330.40) scale(0.92,1)" font-size="9.8" text-anchor="middle" font-weight="normal" fill="#161616"  stroke="#161616" stroke-width="0.5">Island</text>
<line x1="196.50" y1="360.80" x2="339.60" y2="360.80" stroke="#111" stroke-width="2.1"/>
<line x1="375.00" y1="360.80" x2="517.20" y2="360.80" stroke="#111" stroke-width="2.1"/>
<line x1="196.60" y1="355.30" x2="196.60" y2="367.30" stroke="#111" stroke-width="2.1"/>
<line x1="268.80" y1="355.30" x2="268.80" y2="367.30" stroke="#111" stroke-width="2.1"/>
<line x1="339.60" y1="355.30" x2="339.60" y2="367.30" stroke="#111" stroke-width="2.1"/>
<line x1="375.00" y1="355.30" x2="375.00" y2="367.30" stroke="#111" stroke-width="2.1"/>
<line x1="447.00" y1="355.30" x2="447.00" y2="367.30" stroke="#111" stroke-width="2.1"/>
<line x1="517.20" y1="355.30" x2="517.20" y2="367.30" stroke="#111" stroke-width="2.1"/>
<text transform="translate(230.80,356.20) scale(0.92,1)" font-size="9.8" text-anchor="middle" font-weight="normal" fill="#161616"  stroke="#161616" stroke-width="0.5">2000bp</text>
<text transform="translate(306.80,356.20) scale(0.92,1)" font-size="9.8" text-anchor="middle" font-weight="normal" fill="#161616"  stroke="#161616" stroke-width="0.5">2000bp</text>
<text transform="translate(409.00,356.20) scale(0.92,1)" font-size="9.8" text-anchor="middle" font-weight="normal" fill="#161616"  stroke="#161616" stroke-width="0.5">2000bp</text>
<text transform="translate(484.50,356.20) scale(0.92,1)" font-size="9.8" text-anchor="middle" font-weight="normal" fill="#161616"  stroke="#161616" stroke-width="0.5">2000bp</text>
</svg>
</body></html>
